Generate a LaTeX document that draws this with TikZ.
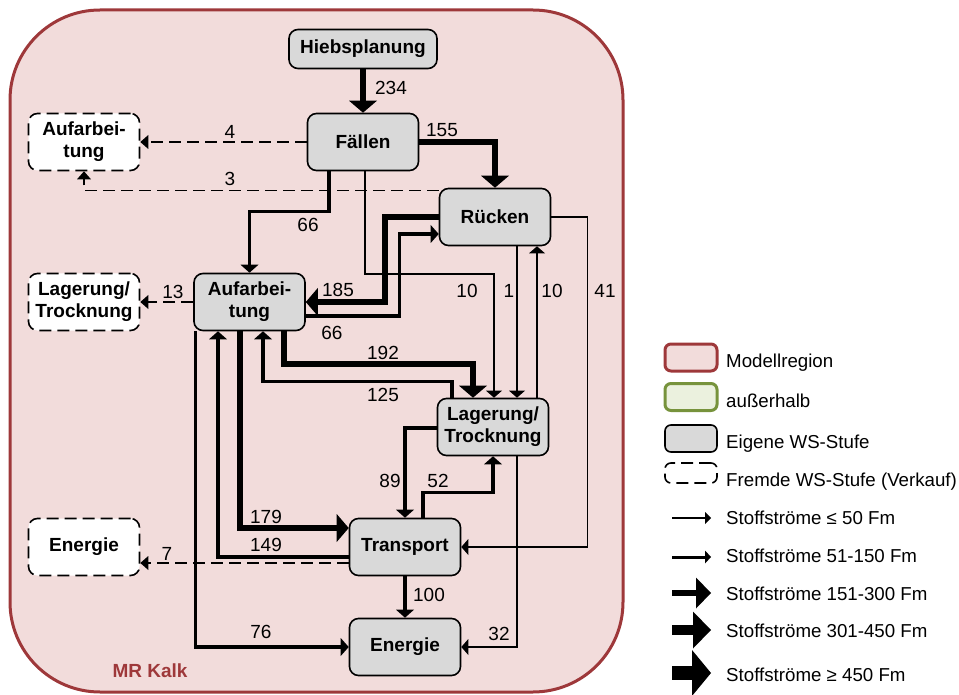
\documentclass[tikz,border=0pt]{standalone}
\usepackage{fontspec}
\setmainfont{Liberation Sans}
\usetikzlibrary{arrows.meta}
\definecolor{regionfill}{HTML}{F2DCDB}
\definecolor{regionline}{HTML}{9E383A}
\definecolor{stagefill}{HTML}{D9D9D9}
\definecolor{outsideline}{HTML}{77933C}
\definecolor{outsidefill}{HTML}{EBF1DE}

\begin{document}
\begin{tikzpicture}[x=1pt,y=-1pt,
  stage/.style={draw=black, line width=1.6pt, fill=stagefill, rounded corners=9pt,
    minimum width=111pt, minimum height=57pt, inner sep=0pt, align=center,
    font=\fontsize{19}{22}\selectfont\bfseries},
  foreign/.style={stage, fill=white, dash pattern=on 12pt off 6pt},
  qty/.style={font=\fontsize{19}{22}\selectfont, inner sep=0pt},
  thinflow/.style={line width=1.6pt, -{Triangle[width=16pt,length=7pt,line width=0pt]}},
  medflow/.style={line width=3.3pt, -{Triangle[width=18pt,length=8pt,line width=0pt]}},
  thickflow/.style={line width=6pt, -{Triangle[width=28pt,length=12pt,line width=0pt]}},
  sellflow/.style={line width=1.6pt, dash pattern=on 12pt off 6pt,
    -{Triangle[width=14pt,length=8pt,line width=0pt]}},
  legbox/.style={rounded corners=6pt, minimum width=52pt, minimum height=27pt, inner sep=0pt},
  legtext/.style={font=\fontsize{18.7}{21}\selectfont, anchor=base west, inner sep=0pt},
]
\useasboundingbox (0,0) rectangle (959,695);

% model region
\draw[fill=regionfill, draw=regionline, line width=3pt, rounded corners=90pt]
  (10,10) rectangle (623,692);
\node[font=\fontsize{19}{22}\selectfont\bfseries, text=regionline, inner sep=0pt,
  anchor=base] (region) at (150,677) {MR Kalk};

% own value-chain stages
\node[stage, minimum width=148pt, minimum height=39pt] (hieb) at (363,49) {Hiebsplanung};
\node[stage] (faellen) at (363,142) {Fällen};
\node[stage] (ruecken) at (495,217) {Rücken};
\node[stage] (aufarb) at (249.5,302) {Aufarbei-\\tung};
\node[stage] (lager) at (493,427) {Lagerung/\\Trocknung};
\node[stage] (transp) at (405,547) {Transport};
\node[stage] (energie) at (405,647) {Energie};

% external stages (sale)
\node[foreign] (extauf) at (84,142) {Aufarbei-\\tung};
\node[foreign] (extlager) at (84,302) {Lagerung/\\Trocknung};
\node[foreign] (extenergie) at (84,547) {Energie};

% material flows
\draw[thickflow] (hieb.south) -- (faellen.north);
\draw[sellflow] (faellen.west) -- (extauf.east);
\draw[sellflow] ([yshift=-3pt]ruecken.north west) -| (extauf.south);
\draw[thickflow] (faellen.east) -| (ruecken.north);
\draw[medflow] ([xshift=-34pt]faellen.south) -- ++(0,40) -| (aufarb.north);
\draw[thinflow] ([xshift=2pt]faellen.south) -- ++(0,103) -| ([xshift=1pt]lager.north);
\draw[thickflow] (ruecken.west) -- ++(-54,0) |- (aufarb.east);
\draw[medflow] ([yshift=-14pt]aufarb.east) -- ++(94,0) |- ([yshift=-17pt]ruecken.west);
\draw[thickflow] ([xshift=34.5pt]aufarb.south) -- ++(0,33) -| ([xshift=-20pt]lager.north);
\draw[medflow] ([xshift=-41pt]lager.north) -- ++(0,-16) -| ([xshift=13.5pt]aufarb.south);
\draw[thinflow] ([xshift=22pt]ruecken.south) -- ([xshift=24pt]lager.north);
\draw[thinflow] ([xshift=44pt]lager.north) -- ([xshift=42pt]ruecken.south);
\draw[thinflow] (ruecken.east) -- ++(36,0) |- (transp.east);
\draw[sellflow] (aufarb.west) -- (extlager.east);
\draw[thickflow] ([xshift=-9.5pt]aufarb.south) |- ([yshift=19pt]transp.west);
\draw[medflow] ([yshift=-10pt]transp.west) -| ([xshift=-31.5pt]aufarb.south);
\draw[medflow] ([xshift=-54pt]aufarb.south) |- (energie.west);
\draw[sellflow] ([yshift=-16pt]transp.west) -- ([yshift=-16pt]extenergie.east);
\draw[medflow] ([yshift=-1pt]lager.west) -| (transp.north);
\draw[medflow] ([xshift=18pt]transp.north) -- ++(0,-25) -| (lager.south);
\draw[medflow] (transp.south) -- (energie.north);
\draw[thinflow] ([xshift=24pt]lager.south) |- (energie.east);

% flow quantities
\node[qty] (q234) at (391,88) {234};
\node[qty] (q4) at (230,132) {4};
\node[qty] (q3) at (230,179) {3};
\node[qty] (q155) at (442,130) {155};
\node[qty] (q66a) at (308,225) {66};
\node[qty] (q185) at (338,290) {185};
\node[qty] (q66b) at (332,333) {66};
\node[qty] (q10a) at (467,291) {10};
\node[qty] (q1) at (509,291) {1};
\node[qty] (q10b) at (552,291) {10};
\node[qty] (q41) at (605,291) {41};
\node[qty] (q192) at (383,353) {192};
\node[qty] (q125) at (383,395) {125};
\node[qty] (q13) at (173,292) {13};
\node[qty] (q89) at (390,481) {89};
\node[qty] (q52) at (438,481) {52};
\node[qty] (q179) at (266,517) {179};
\node[qty] (q149) at (266,545) {149};
\node[qty] (q7) at (167,554) {7};
\node[qty] (q100) at (429,595) {100};
\node[qty] (q76) at (261,632) {76};
\node[qty] (q32) at (499,634) {32};

% legend
\node[legbox, fill=regionfill, draw=regionline, line width=3pt] (lgregion) at (691,357.5) {};
\node[legbox, fill=outsidefill, draw=outsideline, line width=3pt] (lgoutside) at (691,397) {};
\node[legbox, fill=stagefill, draw=black, line width=1.6pt] (lgown) at (691,438.5) {};
\node[legbox, minimum height=20pt, draw=black, line width=1.6pt, dash pattern=on 12pt off 6pt] (lgforeign) at (691,473) {};
\node[legtext] (tregion) at (726,367) {Modellregion};
\node[legtext] (toutside) at (726,407) {außerhalb};
\node[legtext] (town) at (726,448) {Eigene WS-Stufe};
\node[legtext] (tforeign) at (726,486) {Fremde WS-Stufe (Verkauf)};
\node[legtext] (tf1) at (726,524) {Stoffströme ≤ 50 Fm};
\node[legtext] (tf2) at (726,562) {Stoffströme 51-150 Fm};
\node[legtext] (tf3) at (726,600) {Stoffströme 151-300 Fm};
\node[legtext] (tf4) at (726,637) {Stoffströme 301-450 Fm};
\node[legtext] (tf5) at (726,681) {Stoffströme ≥ 450 Fm};

\coordinate (a1s) at (672,518); \coordinate (a1e) at (711,518);
\coordinate (a2s) at (672,557); \coordinate (a2e) at (711,557);
\coordinate (a3s) at (672,593); \coordinate (a3e) at (711,593);
\coordinate (a4s) at (672,630); \coordinate (a4e) at (711,630);
\coordinate (a5s) at (672,673); \coordinate (a5e) at (711,673);
\draw[line width=1.5pt, -{Triangle[width=12pt,length=6pt,line width=0pt]}] (a1s) -- (a1e);
\draw[line width=3pt, -{Triangle[width=13pt,length=6pt,line width=0pt]}] (a2s) -- (a2e);
\draw[line width=6.5pt, -{Triangle[width=31pt,length=15pt,line width=0pt]}] (a3s) -- (a3e);
\draw[line width=10pt, -{Triangle[width=37pt,length=18pt,line width=0pt]}] (a4s) -- (a4e);
\draw[line width=14pt, -{Triangle[width=46pt,length=19pt,line width=0pt]}] (a5s) -- (a5e);
\end{tikzpicture}
\end{document}
